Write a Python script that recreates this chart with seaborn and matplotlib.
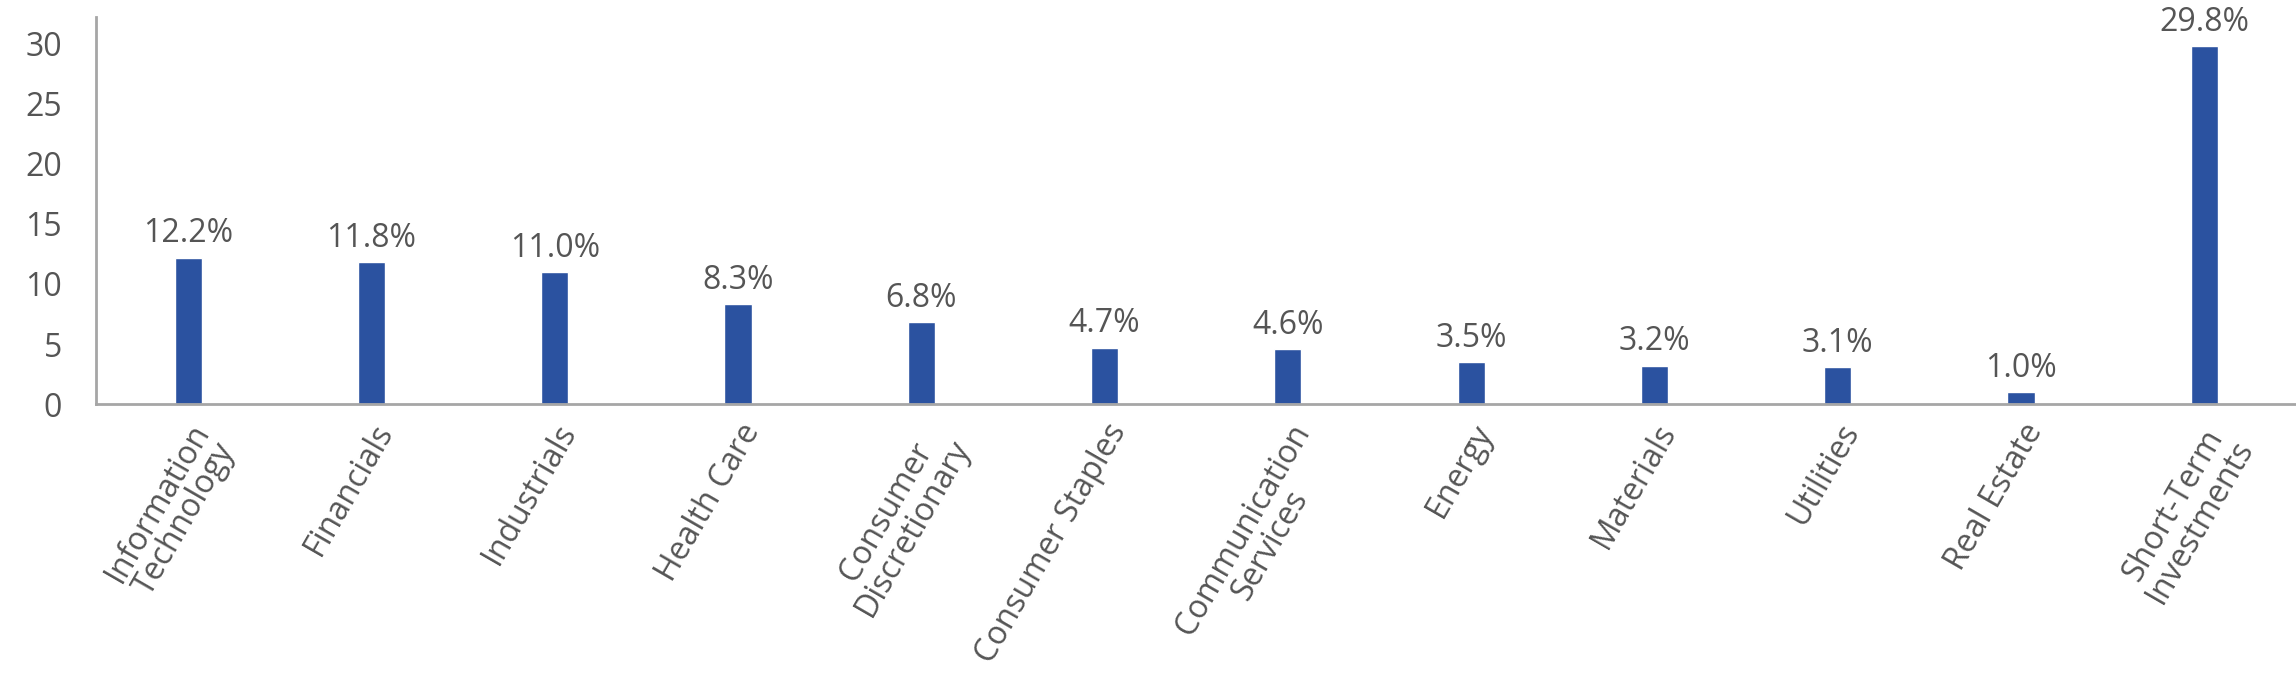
import matplotlib
matplotlib.use("Agg")
import matplotlib.pyplot as plt
import seaborn as sns
import pandas as pd

# sector weights (%)
sectors = ["Information\nTechnology", "Financials", "Industrials", "Health Care",
           "Consumer\nDiscretionary", "Consumer Staples", "Communication\nServices",
           "Energy", "Materials", "Utilities", "Real Estate", "Short-Term\nInvestments"]
weights = [12.2, 11.8, 11.0, 8.3, 6.8, 4.7, 4.6, 3.5, 3.2, 3.1, 1.0, 29.8]
yticks = [0, 5, 10, 15, 20, 25, 30]

df = pd.DataFrame({"sector": sectors, "weight": weights})

sns.set_style("white")
plt.rcParams["font.family"] = ["Open Sans", "DejaVu Sans"]

text_col = "#555555"
bar_col = "#2B52A0"
axis_col = "#A6A6A6"

fig = plt.figure(figsize=(22.96, 6.92), dpi=100)
ax = fig.add_axes([0.042, 0.416, 0.958, 0.559])

sns.barplot(data=df, x="sector", y="weight", color=bar_col, width=0.148,
            saturation=1, ax=ax)

for i, v in enumerate(weights):
    ax.text(i, v + 0.6, f"{v:.1f}%", ha="center", va="bottom",
            fontsize=23, color=text_col)

ax.set_ylim(0, 32.2)
ax.set_xlim(-0.5, len(sectors) - 0.5)
ax.set_yticks(yticks)
ax.set_xlabel("")
ax.set_ylabel("")
ax.tick_params(axis="y", labelsize=23, colors=text_col, length=0, pad=25)
ax.tick_params(axis="x", labelsize=23, colors=text_col, length=0, pad=10)
plt.setp(ax.get_xticklabels(), rotation=60, ha="right", rotation_mode="anchor",
         multialignment="center", linespacing=0.95)

for s in ["top", "right"]:
    ax.spines[s].set_visible(False)
for s in ["left", "bottom"]:
    ax.spines[s].set_color(axis_col)
    ax.spines[s].set_linewidth(2)

fig.savefig("out.png", dpi=100)
